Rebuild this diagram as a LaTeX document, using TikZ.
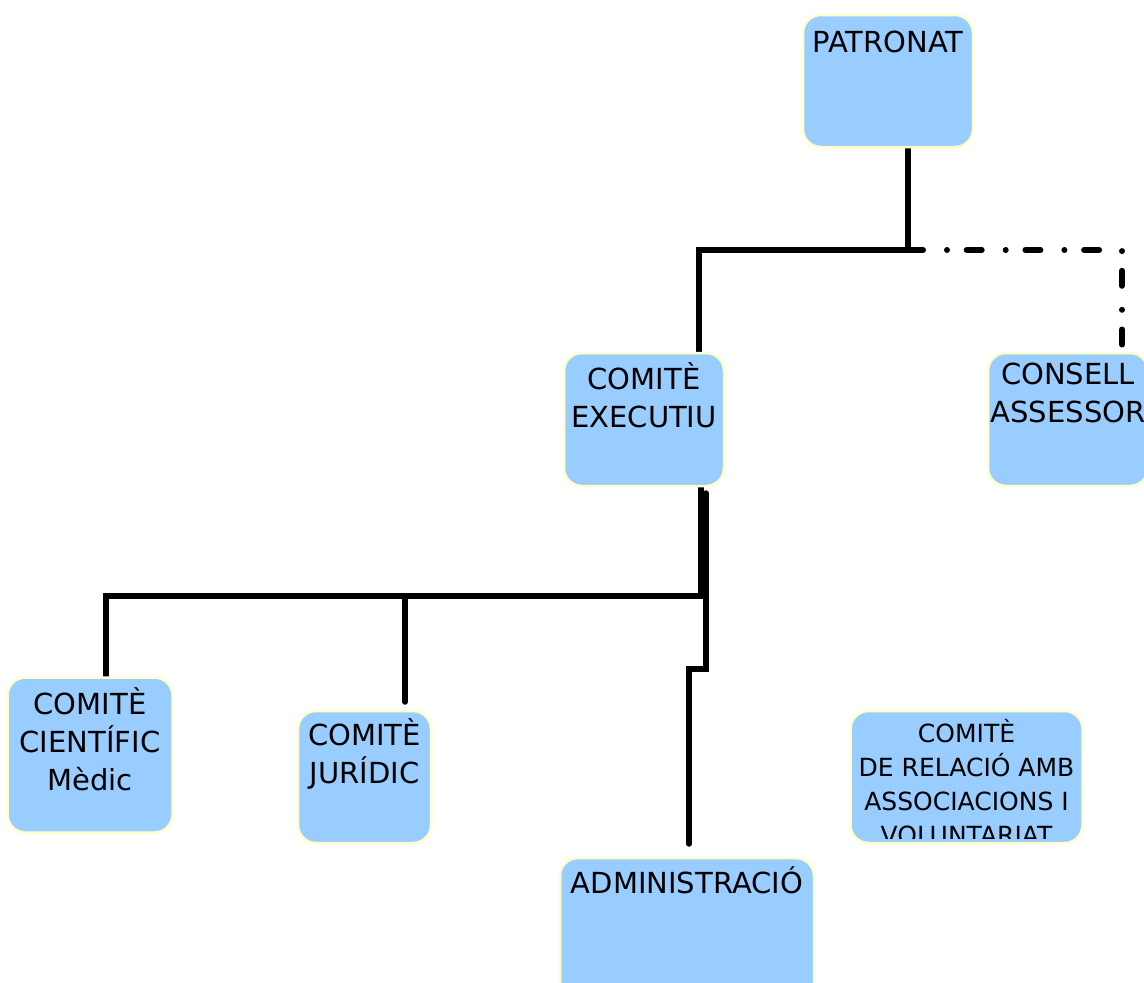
\documentclass[tikz,border=0pt]{standalone}
\usepackage{fontspec}
\setmainfont{DejaVu Sans}
\usepackage{tikz}
\usetikzlibrary{positioning,backgrounds}
\definecolor{boxblue}{HTML}{99CCFF}
\definecolor{boxrim}{HTML}{FFFFCC}
\tikzset{
  orgbox/.style  = {draw=boxrim, line width=2.5pt, fill=boxblue, rounded corners=18pt,
                    inner sep=0pt},
  title/.style   = {align=center, inner sep=0pt, font=\fontsize{29}{38}\selectfont,
                    execute at begin node={\rule{0pt}{1em}}},
  small/.style   = {title, font=\fontsize{25}{34}\selectfont},
  wire/.style    = {line width=6pt, line cap=round},
  advisory/.style= {wire, dash pattern=on 15pt off 24pt on 0pt off 19.7pt},
}
\begin{document}
\begin{tikzpicture}[x=1pt,y=-1pt]
  \useasboundingbox (0,0) rectangle (1144,983);
  \node[orgbox, minimum width=170pt, minimum height=132pt] (patronat) at (888,81)    {};
  \node[orgbox, minimum width=160pt, minimum height=133pt] (executiu) at (644,419.5) {};
  \node[orgbox, minimum width=160pt, minimum height=133pt] (consell)  at (1068,419.5){};
  \node[orgbox, minimum width=165pt, minimum height=155pt] (cientific) at (90,755)   {};
  \node[orgbox, minimum width=133pt, minimum height=132pt] (juridic)  at (364.5,777) {};
  \node[orgbox, minimum width=232pt, minimum height=132pt] (relacio)  at (966.5,777) {};
  \node[orgbox, minimum width=254pt, minimum height=164pt] (admin)    at (687,940)   {};

  \node[title, below=10pt of patronat.north]  {PATRONAT};
  \node[title, below=11pt of executiu.north]  {COMITÈ\\EXECUTIU};
  \node[title, below=11pt of consell.north]   {CONSELL\\ASSESSOR};
  \node[title, below=11pt of cientific.north] {COMITÈ\\CIENTÍFIC\\Mèdic};
  \node[title, below=9pt of juridic.north]    {COMITÈ\\JURÍDIC};
  \node[title, below=8pt of admin.north]      {ADMINISTRACIÓ};
  \begin{scope}
    \clip (relacio.north west) rectangle ([yshift=6pt]relacio.south east);
    \node[small, below=9pt of relacio.north] {COMITÈ\\DE RELACIÓ AMB\\ASSOCIACIONS I\\VOLUNTARIAT};
  \end{scope}

  \begin{scope}[on background layer]
    \coordinate (split) at (908,250);
    \draw[wire] (patronat.south -| split) -- (split) -| ([xshift=55pt]executiu.north);
    \draw[advisory] (split) -| ([xshift=54pt]consell.north);
    \draw[wire] ([xshift=57pt]executiu.south) -- ++(0,109) coordinate (hub)
       -| ([xshift=16pt]cientific.north);
    \draw[wire] ([xshift=40.5pt]juridic.north |- hub) -- ([xshift=40.5pt,yshift=8pt]juridic.north);
    \draw[wire] ([xshift=62pt,yshift=-6pt]executiu.south) -- ++(0,176)
       -| ([xshift=2pt,yshift=13pt]admin.north);
  \end{scope}
\end{tikzpicture}
\end{document}
